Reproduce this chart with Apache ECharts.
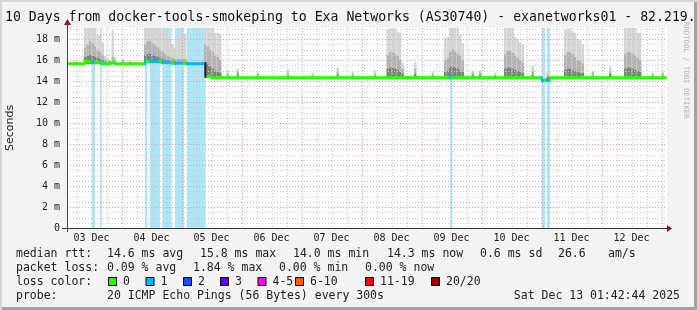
<!DOCTYPE html>
<html><head><meta charset="utf-8">
<script src="https://cdn.jsdelivr.net/npm/echarts@6/dist/echarts.min.js"></script>
<style>html,body{margin:0;padding:0;background:#f3f3f3;}#c{width:697px;height:310px;}</style>
</head><body><div id="c"></div>
<script>
// ---- time axis: hours since 03 Dec 00:00 ----
const startHour = 2.2, endHour = 242.2;
const dayLabels = ['03 Dec','04 Dec','05 Dec','06 Dec','07 Dec','08 Dec','09 Dec','10 Dec','11 Dec','12 Dec'];
const labelHours = [12,36,60,84,108,132,156,180,204,228];
const yTickValues = [0,2,4,6,8,10,12,14,16,18];

// ---- median rtt (ms): segment start hour, value, lost pings ----
const medianStart = [2.2, 9.2, 12.1, 13.4, 15.4, 16.1, 19.4, 21.4, 33.4, 34.2, 35.4, 39.4, 40.3, 44.1, 45.4, 49.0, 50.1, 57.6, 60.0, 155.4, 156.2, 192.1, 193.4, 194.1, 195.4];
const medianValue = [15.65, 15.85, 15.8, 15.75, 15.8, 15.65, 15.75, 15.65, 15.85, 15.85, 15.9, 15.8, 15.75, 15.7, 15.7, 15.7, 15.65, 14.45, 14.32, 14.3, 14.3, 14.05, 14.1, 14.05, 14.3];
const medianLoss  = [0, 0, 1, 0, 1, 0, 0, 0, 1, 0, 1, 0, 1, 0, 1, 0, 1, 0, 0, 1, 0, 1, 0, 1, 0];

// ---- smoke (ms): hour bin, min, low, mid, max ----
const smokeHour = [5, 9,10,11,12,13,14,15,16,17,18,20,21,24,27,
  33,34,35,36,37,38,39,40,41,42,43,44,45,46,47,48,49,
  57,58,59,60,61,62,63,66,70,78,90,100,110,116,125,
  130,131,132,133,134,135,136,141,148,
  153,154,155,156,157,158,159,160,164,167,173,
  177,178,179,180,181,182,183,184,188,194,
  201,202,203,204,205,206,207,208,212,219,
  225,226,227,228,229,230,231,236,240];
const smokeMin = [15.6, 15.6,15.6,15.6,15.6,15.6,15.6,15.6,15.6,15.6,15.6,15.6,15.6,15.6,15.6,
  15.7,15.7,15.7,15.7,15.7,15.7,15.7,15.7,15.7,15.7,15.7,15.7,15.7,15.7,15.7,15.7,15.7,
  14.45,14.4,14.4,14.35,14.35,14.35,14.35,14.3,14.3,14.3,14.3,14.3,14.3,14.3,14.3,
  14.3,14.3,14.3,14.3,14.3,14.3,14.3,14.3,14.3,
  14.3,14.3,14.3,14.3,14.3,14.3,14.3,14.3,14.3,14.3,14.3,
  14.3,14.3,14.3,14.3,14.3,14.3,14.3,14.3,14.3,14.1,
  14.3,14.3,14.3,14.3,14.3,14.3,14.3,14.3,14.3,14.3,
  14.3,14.3,14.3,14.3,14.3,14.3,14.3,14.3,14.3];
const smokeLow = [15.7, 16.3,16.4,16.5,16.4,16.3,16.2,16.1,16.0,15.8,15.8,15.9,15.8,15.7,15.7,
  16.5,16.6,16.6,16.5,16.4,16.3,16.2,16.1,16.0,16.0,15.9,15.9,15.9,15.8,15.8,15.8,15.8,
  15.7,15.6,15.4,15.2,15.0,14.9,14.8,14.5,14.6,14.5,14.5,14.4,14.6,14.5,14.5,
  15.2,15.3,15.3,15.2,15.1,14.9,14.7,14.7,14.5,
  14.9,15.0,15.3,15.4,15.3,15.2,15.0,14.9,14.6,14.6,14.5,
  15.2,15.3,15.3,15.2,15.1,15.0,14.9,14.8,14.6,14.4,
  15.1,15.2,15.2,15.1,15.0,14.9,14.8,14.8,14.5,14.7,
  15.2,15.3,15.3,15.2,15.1,15.0,14.9,14.5,14.5];
const smokeMid = [15.8, 17.2,17.5,17.8,17.6,17.3,17.0,16.8,16.5,16.0,15.9,16.3,15.9,15.9,15.8,
  17.5,17.8,17.8,17.6,17.4,17.2,17.0,16.8,16.6,16.4,16.3,16.2,16.1,16.1,16.1,16.1,16.1,
  17.5,17.3,17.0,16.8,16.5,16.3,16.0,14.7,14.9,14.7,14.8,14.6,14.9,14.7,14.7,
  16.5,16.8,16.8,16.6,16.4,16.0,15.2,15.2,14.7,
  16.0,16.2,16.8,17.0,16.8,16.6,16.4,16.0,14.8,14.8,14.6,
  16.6,16.9,16.9,16.7,16.4,16.2,16.0,15.8,15.0,14.6,
  16.5,16.8,16.8,16.6,16.3,16.0,15.9,15.7,14.9,15.0,
  16.6,16.8,16.8,16.6,16.4,16.2,16.0,14.7,14.7];
const smokeMax = [15.9, 19.5,19.5,19.5,19.5,19.5,18.4,18.4,17.7,16.4,16.2,18.8,16.3,16.1,16.0,
  19.5,19.5,19.5,19.5,19.5,19.5,19.5,19.0,18.8,18.5,18.0,17.5,17.2,18.5,18.5,18.5,18.5,
  19.5,19.5,19.5,19.5,18.6,18.6,18.5,15.0,15.2,14.9,15.1,14.8,15.3,14.9,15.0,
  18.9,19.0,19.0,19.0,18.7,18.6,15.7,15.8,14.9,
  18.2,18.2,19.2,19.2,19.2,19.2,18.4,17.6,15.0,15.0,14.8,
  19.2,19.2,19.2,19.2,18.2,18.0,17.7,17.5,15.5,14.9,
  18.9,19.0,19.0,18.7,18.6,18.0,17.9,17.5,14.9,15.4,
  19.2,19.2,19.2,19.2,19.2,18.6,18.6,14.8,14.9];

// ---- loss colours ----
const lossLabels = ['0','1','2','3','4-5','6-10','11-19','20/20'];
const lossColors = ['#26ff00','#00b8ff','#0059ff','#5e00ff','#ff00ff','#ff5e00','#ff0000','#a10000'];
const lossBgColors = ['none','#aee6f8','#b3cdff','#cbb3ff','#ffb3ff','#ffcbb3','#ffb3b3','#e0b3b3'];

const Y_MAX = 19.05;
const chart = echarts.init(document.getElementById('c'), null, {renderer:'canvas'});

// grid line list
const gridLines = [];
for (let h = 6; h < endHour; h += 6) gridLines.push([0, h, h % 24 === 0 ? 1 : 0]);
for (let v = 0.5; v < Y_MAX; v += 0.5) gridLines.push([1, v, Math.abs(v % 2) < 1e-9 ? 1 : 0]);

const medianData = medianStart.map((s, i) => [s, medianValue[i], medianLoss[i], i + 1 < medianStart.length ? medianStart[i + 1] : endHour]);
const smokeData = smokeHour.map((h, i) => [h, smokeMin[i], smokeLow[i], smokeMid[i], smokeMax[i]]);
const lossData = medianData.filter(d => d[2] > 0).map(d => [d[0], d[3], d[2]]);

function clampV(v){ return Math.min(v, Y_MAX); }
const mono = 'DejaVu Sans Mono';

const option = {
  animation: false,
  backgroundColor: '#f3f3f3',
  grid: {left: 67, right: 30, top: 28, bottom: 82, show: true, backgroundColor: '#ffffff', borderWidth: 0},
  xAxis: {
    type: 'value', min: startHour, max: endHour,
    axisLine: {show: false}, splitLine: {show: false},
    axisTick: {show: false},
    axisLabel: {customValues: labelHours, formatter: v => dayLabels[Math.floor(v / 24)],
      fontFamily: mono, fontSize: 10, color: '#222', margin: 5}
  },
  yAxis: {
    type: 'value', min: 0, max: Y_MAX, interval: 2,
    axisLine: {show: false}, splitLine: {show: false}, axisTick: {show: false},
    axisLabel: {customValues: yTickValues, formatter: v => v === 0 ? '0' : v + ' m',
      fontFamily: mono, fontSize: 10, color: '#222', margin: 7}
  },
  series: [
    { // loss background bars
      type: 'custom', z: 1, silent: true, data: lossData,
      renderItem(params, api) {
        const cs = params.coordSys;
        const x0 = api.coord([api.value(0), 0])[0], x1 = api.coord([api.value(1), 0])[0];
        return {type: 'rect', shape: {x: x0, y: cs.y, width: x1 - x0, height: cs.height},
          style: {fill: lossBgColors[Math.min(api.value(2), 7)]}};
      }
    },
    { // smoke
      type: 'custom', z: 2, silent: true, data: smokeData,
      renderItem(params, api) {
        const h = api.value(0);
        const x0 = api.coord([h, 0])[0], x1 = api.coord([h + 1, 0])[0];
        const y = i => api.coord([h, clampV(api.value(i))])[1];
        const band = (a, b, c) => ({type: 'rect', shape: {x: x0, y: y(b), width: x1 - x0, height: y(a) - y(b)}, style: {fill: c}});
        return {type: 'group', children: [band(3, 4, '#d6d6d6'), band(2, 3, '#b2b2b2'), band(1, 2, '#808080')]};
      }
    },
    { // grid (drawn over the smoke, like rrdtool)
      type: 'custom', z: 3, silent: true, data: gridLines,
      renderItem(params, api) {
        const cs = params.coordSys;
        const kind = api.value(0), v = api.value(1), major = api.value(2);
        const style = {stroke: major ? '#e39a9a' : '#c9c9c9', lineWidth: 1, lineDash: [1, 2]};
        if (kind === 0) {
          const x = Math.round(api.coord([v, 0])[0]) + 0.5;
          return {type: 'line', shape: {x1: x, y1: cs.y, x2: x, y2: cs.y + cs.height}, style};
        }
        const yy = Math.round(api.coord([startHour, v])[1]) + 0.5;
        return {type: 'line', shape: {x1: cs.x, y1: yy, x2: cs.x + cs.width, y2: yy}, style};
      }
    },
    { // median rtt coloured by loss
      type: 'custom', z: 4, silent: true, data: medianData,
      renderItem(params, api) {
        const i = params.dataIndex;
        const s = api.value(0), v = api.value(1), loss = api.value(2), e = api.value(3);
        const p0 = api.coord([s, v]), p1 = api.coord([e, v]);
        const col = lossColors[Math.min(loss, 7)];
        const children = [{type: 'rect', shape: {x: p0[0], y: p0[1] - 1.5, width: p1[0] - p0[0], height: 3}, style: {fill: col}}];
        if (i > 0) {
          const pv = api.coord([s, medianValue[i - 1]]);
          const top = Math.min(pv[1], p0[1]) - 1.5, bot = Math.max(pv[1], p0[1]) + 1.5;
          children.push({type: 'rect', shape: {x: p0[0] - 1, y: top, width: 2, height: bot - top}, style: {fill: Math.abs(pv[1]-p0[1]) > 5 ? '#222' : col}});
        }
        return {type: 'group', children};
      }
    }
  ],
  graphic: []
};

// ---- texts ----
const g = option.graphic;
const txt = (x, y, text, extra) => g.push(Object.assign({type: 'text', x, y, silent: true,
  style: Object.assign({text, fontFamily: mono, fontSize: 11.5, fill: '#222', textVerticalAlign: 'middle'}, extra && extra.style || {})}, extra && extra.el || {}));

txt(5, 17.5, '10 Days from docker-tools-smokeping to Exa Networks (AS30740) - exanetworks01 - 82.219.', {style: {fontSize: 13.2, fill: '#111'}});
txt(10, 128, 'Seconds', {style: {fontFamily: 'DejaVu Sans', fontSize: 11, textAlign: 'center'}, el: {rotation: Math.PI / 2}});
txt(686, 22, 'RRDTOOL / TOBI OETIKER', {style: {fontSize: 7.3, fill: '#b4b4b4', textAlign: 'left'}, el: {rotation: -Math.PI / 2}});

// frame shadow
g.push({type: 'rect', shape: {x: 694, y: 0, width: 3, height: 310}, style: {fill: '#a2a2a2'}, silent: true, z: 20});
g.push({type: 'rect', shape: {x: 0, y: 307, width: 697, height: 3}, style: {fill: '#a2a2a2'}, silent: true, z: 20});
g.push({type: 'rect', shape: {x: 0, y: 0, width: 697, height: 2}, style: {fill: '#d6d6d6'}, silent: true, z: 20});
g.push({type: 'rect', shape: {x: 0, y: 0, width: 2, height: 310}, style: {fill: '#d6d6d6'}, silent: true, z: 20});

// axes lines and arrows
g.push({type: 'line', shape: {x1: 62, y1: 228.5, x2: 668, y2: 228.5}, style: {stroke: '#333', lineWidth: 1}, silent: true, z: 10});
g.push({type: 'line', shape: {x1: 67.5, y1: 232, x2: 67.5, y2: 24}, style: {stroke: '#444', lineWidth: 1}, silent: true, z: 10});
g.push({type: 'polygon', shape: {points: [[667, 225], [672, 228.5], [667, 232]]}, style: {fill: '#8b1a1a'}, silent: true, z: 10});
g.push({type: 'polygon', shape: {points: [[64, 25], [67.5, 19], [71, 25]]}, style: {fill: '#8b1a1a'}, silent: true, z: 10});

// legend
const L1 = 254, L2 = 268, L3 = 282, L4 = 296;
txt(16, L1, 'median rtt:');
txt(107, L1, '14.6 ms avg'); txt(200, L1, '15.8 ms max'); txt(293, L1, '14.0 ms min');
txt(387, L1, '14.3 ms now'); txt(480, L1, '0.6 ms sd'); txt(558, L1, '26.6'); txt(608, L1, 'am/s');
txt(16, L2, 'packet loss:');
txt(107, L2, '0.09 % avg'); txt(193, L2, '1.84 % max'); txt(279, L2, '0.00 % min'); txt(365, L2, '0.00 % now');
txt(16, L3, 'loss color:');
const swX = [108, 145.5, 183, 220, 257.5, 295, 365, 431];
lossLabels.forEach((lab, i) => {
  g.push({type: 'rect', shape: {x: swX[i] + 0.5, y: L3 - 4.5, width: 8, height: 8}, style: {fill: lossColors[i], stroke: '#000', lineWidth: 1}, silent: true});
  txt(swX[i] + 15, L3, lab);
});
txt(16, L4, 'probe:');
txt(107, L4, '20 ICMP Echo Pings (56 Bytes) every 300s');
txt(680, L4, 'Sat Dec 13 01:42:44 2025', {style: {textAlign: 'right'}});

chart.setOption(option);
</script></body></html>
